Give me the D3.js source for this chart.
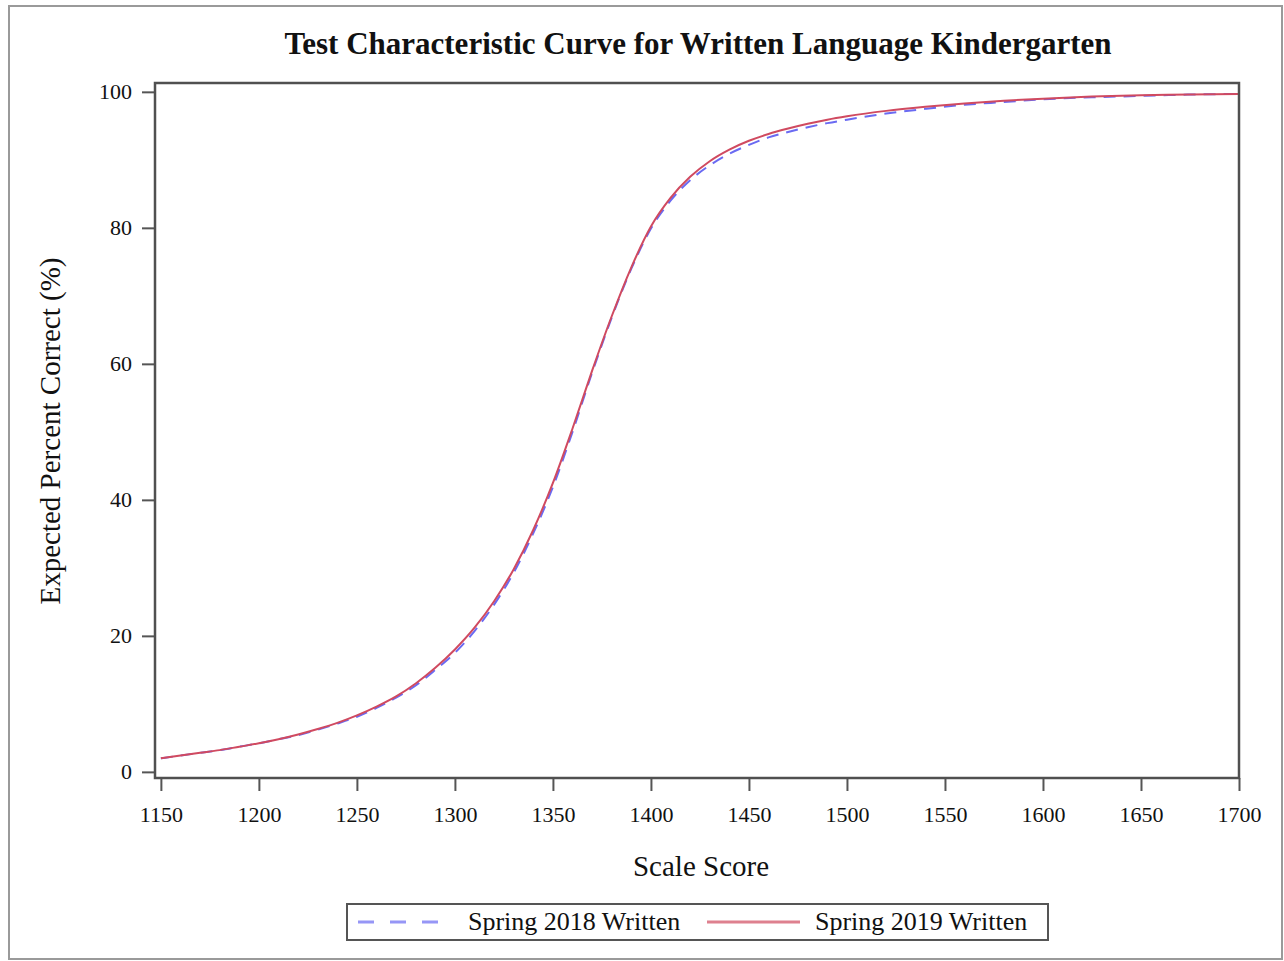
<!DOCTYPE html>
<html>
<head>
<meta charset="utf-8">
<script src="https://cdn.jsdelivr.net/npm/d3@7"></script>
<style>
  body { margin: 0; background: #fff; }
  svg { display: block; }
  .tick text { font-family: "Liberation Serif", "Times New Roman", serif; font-size: 22px; fill: #111; }
</style>
</head>
<body>
<svg id="chart" width="1284" height="961"></svg>
<script>
// scale scores
const scores = [1150, 1160, 1170, 1180, 1190, 1200, 1210, 1220, 1230, 1240,
  1250, 1260, 1270, 1280, 1290, 1300, 1310, 1320, 1330, 1340,
  1350, 1360, 1370, 1380, 1390, 1400, 1410, 1420, 1430, 1440,
  1450, 1460, 1470, 1480, 1490, 1500, 1520, 1540, 1560, 1580,
  1600, 1625, 1650, 1675, 1700]

const spring2018 = [2.0, 2.4, 2.8, 3.2, 3.7, 4.2, 4.8, 5.4, 6.2, 7.1,
  8.1, 9.4, 10.9, 12.7, 15.0, 17.5, 20.7, 24.6, 29.3, 35.1,
  41.9, 50.0, 58.7, 66.8, 74.0, 79.9, 84.0, 87.0, 89.2, 90.9,
  92.2, 93.3, 94.1, 94.8, 95.4, 95.9, 96.8, 97.5, 98.1, 98.5,
  98.9, 99.2, 99.4, 99.6, 99.7]

const spring2019 = [2.0, 2.4, 2.8, 3.2, 3.7, 4.2, 4.8, 5.5, 6.3, 7.2,
  8.3, 9.6, 11.1, 13.0, 15.3, 18.0, 21.2, 25.1, 29.8, 35.6,
  42.5, 50.5, 59.0, 67.0, 74.2, 80.2, 84.4, 87.5, 89.8, 91.5,
  92.8, 93.8, 94.6, 95.3, 95.9, 96.4, 97.2, 97.8, 98.3, 98.7,
  99.0, 99.3, 99.5, 99.6, 99.7]

const xTicks = [1150, 1200, 1250, 1300, 1350, 1400, 1450, 1500, 1550, 1600, 1650, 1700]
const yTicks = [0, 20, 40, 60, 80, 100]

const seriesNames = ['Spring 2018 Written', 'Spring 2019 Written']
const seriesValues = [spring2018, spring2019]
const seriesColors = ['#6a6af2', '#d04a60']
const seriesDash = ['12,8', null]

const serif = '"Liberation Serif", "Times New Roman", serif'
const svg = d3.select('#chart')

const plot = {left: 155, top: 83, right: 1239, bottom: 778}

const x = d3.scaleLinear().domain([1147, 1700]).range([plot.left, plot.right])
const y = d3.scaleLinear().domain([-0.9, 101.3]).range([plot.bottom, plot.top])

// outer border
svg.append('rect')
  .attr('x', 9).attr('y', 6)
  .attr('width', 1273).attr('height', 953)
  .attr('fill', 'none')
  .attr('stroke', '#9a9a9a')
  .attr('stroke-width', 2)

// title
svg.append('text')
  .attr('x', 698).attr('y', 54)
  .attr('text-anchor', 'middle')
  .style('font-family', serif)
  .style('font-weight', 'bold')
  .style('font-size', '31px')
  .attr('fill', '#111')
  .text('Test Characteristic Curve for Written Language Kindergarten')

// axes
const xAxis = svg.append('g')
  .attr('transform', `translate(0, ${plot.bottom})`)
  .call(d3.axisBottom(x).tickValues(xTicks).tickFormat(d3.format('d')).tickSize(13).tickPadding(15))
const yAxis = svg.append('g')
  .attr('transform', `translate(${plot.left}, 0)`)
  .call(d3.axisLeft(y).tickValues(yTicks).tickSize(13).tickPadding(10))

;[xAxis, yAxis].forEach((ax) => {
  ax.select('.domain').remove()
  ax.selectAll('.tick line').attr('stroke', '#555').attr('stroke-width', 2)
})

// curves
const line = d3.line()
  .x((d, i) => x(scores[i]))
  .y((d) => y(d))
  .curve(d3.curveMonotoneX)

seriesValues.forEach((vals, k) => {
  svg.append('path')
    .datum(vals)
    .attr('d', line)
    .attr('fill', 'none')
    .attr('stroke', seriesColors[k])
    .attr('stroke-width', 2)
    .attr('stroke-dasharray', seriesDash[k])
})

// plot frame
svg.append('rect')
  .attr('x', plot.left).attr('y', plot.top)
  .attr('width', plot.right - plot.left)
  .attr('height', plot.bottom - plot.top)
  .attr('fill', 'none')
  .attr('stroke', '#505050')
  .attr('stroke-width', 2.5)

// axis labels
svg.append('text')
  .attr('x', 701).attr('y', 876)
  .attr('text-anchor', 'middle')
  .style('font-family', serif)
  .style('font-size', '29px')
  .attr('fill', '#111')
  .text('Scale Score')

svg.append('text')
  .attr('transform', 'translate(60, 431) rotate(-90)')
  .attr('text-anchor', 'middle')
  .style('font-family', serif)
  .style('font-size', '29px')
  .attr('fill', '#111')
  .text('Expected Percent Correct (%)')

// legend
const legend = svg.append('g').attr('transform', 'translate(347, 904)')
legend.append('rect')
  .attr('x', 1).attr('y', 1)
  .attr('width', 701).attr('height', 36)
  .attr('fill', '#ddd')
legend.append('rect')
  .attr('width', 701).attr('height', 36)
  .attr('fill', '#fff')
  .attr('stroke', '#555')
  .attr('stroke-width', 2)

const legendItems = legend.selectAll('g.item')
  .data(seriesNames)
  .enter()
  .append('g')
  .attr('class', 'item')
  .attr('transform', (d, i) => `translate(${i === 0 ? 11 : 360}, 0)`)

legendItems.append('line')
  .attr('x1', 0).attr('x2', (d, i) => i === 0 ? 82 : 93)
  .attr('y1', 18).attr('y2', 18)
  .attr('stroke', (d, i) => seriesColors[i])
  .attr('stroke-width', 3)
  .attr('stroke-opacity', 0.7)
  .attr('stroke-dasharray', (d, i) => seriesDash[i] ? '16,16' : null)

legendItems.append('text')
  .attr('x', (d, i) => i === 0 ? 110 : 108)
  .attr('y', 26)
  .style('font-family', serif)
  .style('font-size', '26px')
  .attr('fill', '#111')
  .text((d) => d)
</script>
</body>
</html>
